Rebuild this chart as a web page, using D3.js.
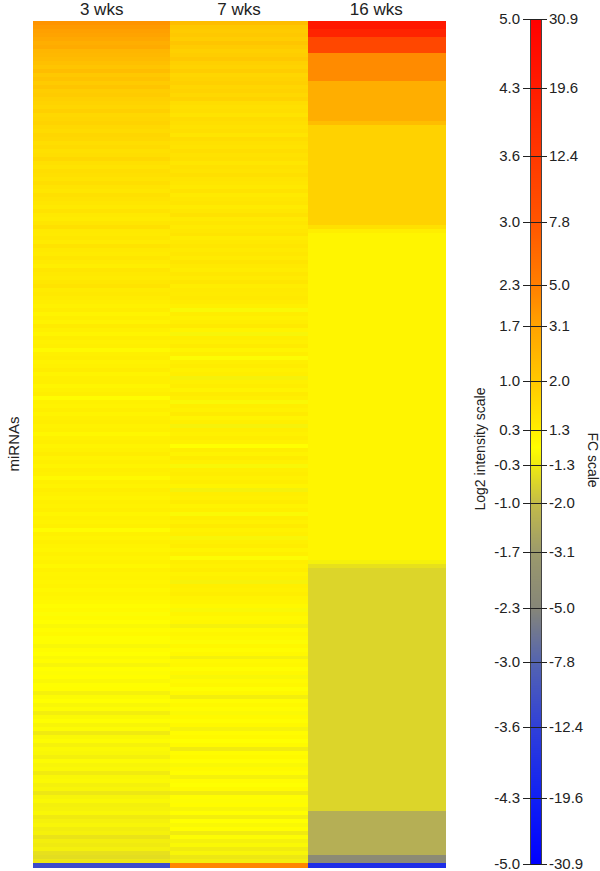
<!DOCTYPE html>
<html>
<head>
<meta charset="utf-8">
<script src="https://cdn.jsdelivr.net/npm/d3@7"></script>
<style>
body { margin: 0; background: white; }
text { font-family: "Liberation Sans", Arial, sans-serif; fill: #222; }
</style>
</head>
<body>
<svg id="chart"></svg>
<script>
var width = 600;
var height = 871;

var columns = ["3 wks", "7 wks", "16 wks"];

// log2 values per miRNA row top to bottom
var wk3 = [
	1.95, 1.85, 1.75, 1.7, 1.6, 1.5, 1.55, 1.35, 1.3, 1.25,
	1.15, 1.05, 1.2, 1.0, 1.1, 0.95, 1.05, 0.9, 0.95, 0.85,
	0.8, 0.75, 0.85, 0.7, 0.75, 0.8, 0.7, 0.65, 0.75, 0.7,
	0.6, 0.65, 0.55, 0.6, 0.7, 0.55, 0.5, 0.6, 0.55, 0.5,
	0.6, 0.5, 0.45, 0.55, 0.5,
	0.45, 0.4, 0.5, 0.4, 0.35, 0.45, 0.55, 0.4, 0.38, 0.42,
	0.35, 0.5, 0.4, 0.36, 0.44, 0.38, 0.3, 0.45, 0.4, 0.35,
	0.42, 0.5, 0.36, 0.4, 0.33,
	0.3, 0.25, 0.32, 0.2, 0.28, 0.22, 0.35, 0.26, 0.18, 0.3,
	0.24, 0.28, 0.1, 0.27, 0.3, 0.22, 0.25, 0.32, 0.2, 0.26,
	0.28, 0.18, 0.24, 0.3, 0.05, 0.25, 0.22, 0.28, 0.2, 0.26,
	0.3, 0.23, 0.27, 0.15, 0.25, 0.29, 0.2, 0.24, 0.31, 0.22,
	0.26, 0.19, 0.28, 0.24, 0.1, 0.27, 0.22, 0.3, 0.25, 0.2,
	0.26, 0.23, 0.28, 0.18, 0.25, 0.21, 0.27, 0.05, 0.24, 0.2,
	0.26, 0.22, 0.18, 0.25, 0.2, 0.23, 0.15, 0.24, 0.19, 0.22,
	0.17, 0.21, 0.14, 0.2, 0.16,
	0.12, 0.05, 0.1, -0.05, 0.08, 0.02, -0.1, 0.06, 0.1, -0.02,
	0.04, -0.12, 0.05, 0.0, -0.08, 0.06, -0.15, 0.02, -0.05, 0.04,
	-0.1, -0.02, 0.03, -0.2, -0.06, 0.0, -0.12, -0.04, -0.25, -0.08,
	-0.02, -0.14, -0.06, -0.3, -0.1, -0.04, -0.18, -0.08, -0.12, -0.22,
	-0.06, -0.15, -0.1, -0.28, -0.12, -0.08, -0.2, -0.14, -0.35, -0.16,
	-0.1, -0.22, -0.18, -0.12, -0.3, -0.2, -0.15, -0.26, -0.2, -0.4,
	-0.24, -0.3, -0.22, -0.45, -0.5, -0.35,
	-3.4
];

var wk7 = [
	1.2, 1.0,
	0.95, 1.0, 0.9, 1.05, 0.95, 0.85, 0.9, 1.0,
	0.85, 0.8, 0.9, 0.75, 0.8, 0.85, 0.75, 0.8, 0.7, 0.8,
	0.62, 0.55, 0.6, 0.5, 0.64, 0.57, 0.52, 0.58, 0.47, 0.62,
	0.54, 0.5, 0.6, 0.52, 0.56, 0.44, 0.54, 0.5, 0.58, 0.48,
	0.45, 0.4, 0.5, 0.38, 0.42, 0.47, 0.35, 0.42, 0.52, 0.38,
	0.44, 0.37, 0.42, 0.48, 0.33, 0.4, 0.45, 0.37, 0.42, 0.35,
	0.47, 0.39, 0.33, 0.42, 0.36, 0.44, 0.31, 0.38, 0.35, 0.4,
	0.35, 0.28, -0.1, 0.32, 0.25, 0.3, 0.4, 0.22, -0.15, 0.3,
	0.27, 0.35, 0.2, 0.3, -0.05, 0.28, 0.33, 0.24, 0.3, -0.2,
	0.26, 0.32, 0.22, 0.35, 0.28, -0.1, 0.3, 0.25, 0.36, 0.2,
	0.28, -0.18, 0.3, 0.24, 0.32, 0.26, 0.0, 0.3, 0.22, 0.34,
	0.27, -0.12, 0.28, 0.32, 0.24, 0.3, 0.2, -0.2, 0.3, 0.26,
	0.33, 0.22, 0.28, -0.08, 0.3, 0.25, 0.35, 0.23, 0.29, -0.15,
	0.27, 0.31, 0.2, 0.28, -0.05, 0.3, 0.24, 0.32, 0.22, 0.27,
	-0.18, 0.28, 0.25, 0.3, 0.21,
	0.2, 0.12, -0.1, 0.18, 0.1, 0.15, -0.2, 0.08, 0.16, 0.1,
	-0.05, 0.14, 0.06, 0.12, -0.22, 0.1, 0.15, 0.04, 0.12, -0.12,
	0.08, 0.14, 0.02, 0.1, -0.25, 0.06, 0.12, 0.05, -0.08, 0.1,
	0.04, 0.12, -0.18, 0.06, 0.1, 0.0, 0.08, -0.28, 0.05, 0.1,
	0.02, -0.1, 0.08, 0.04, -0.2, 0.06, 0.0, 0.08, -0.3, 0.04,
	-0.05, 0.06, -0.15, 0.02, -0.25, 0.0, -0.1, 0.04, -0.3, -0.05,
	-0.2, -0.1, -0.28, -0.15, -0.35, -0.25,
	2.2
];

// 16 wks column comes in runs of equal values (rows are sorted on it)
var wk16Levels = [4.4, 4.1, 3.3, 2.1, 1.5, 1.2, 0.82, 0.55, 0.3, 0.18, -0.2, -0.45, -0.62, -1.26, -2.14, -4.0];
var wk16Counts = [2,   2,   4,   7,   10,  1,   25,   1,    1,   82,   1,    1,     61,    11,    2,     1];

// colour bar ticks
var log2Ticks  = [5.0, 4.3, 3.6, 3.0, 2.3, 1.7, 1.0, 0.3, -0.3, -1.0, -1.7, -2.3, -3.0, -3.6, -4.3, -5.0];
var log2Labels = ["5.0", "4.3", "3.6", "3.0", "2.3", "1.7", "1.0", "0.3", "-0.3", "-1.0", "-1.7", "-2.3", "-3.0", "-3.6", "-4.3", "-5.0"];
var fcLabels   = ["30.9", "19.6", "12.4", "7.8", "5.0", "3.1", "2.0", "1.3", "-1.3", "-2.0", "-3.1", "-5.0", "-7.8", "-12.4", "-19.6", "-30.9"];
var tickPos    = [19, 88, 156, 222, 285, 326, 381, 430, 465, 503, 552, 608, 662, 727, 798, 864];

var colorStops = [5.0, 4.3, 3.6, 3.0, 2.3, 1.7, 1.0, 0.3, 0.0, -0.3, -1.0, -1.7, -2.3, -3.0, -3.6, -4.3, -5.0];
var colorRange = ["#ff0000", "#ff1c00", "#ff3800", "#ff5500", "#ff7f00", "#ffa300", "#ffc800", "#ffee00", "#ffff00",
                  "#f0ea10", "#c4bc48", "#9c9a6c", "#868678", "#5464b0", "#3040d8", "#1020f4", "#0000ff"];

var wk16 = [];
wk16Levels.forEach(function(v, i){
	for (var k = 0; k < wk16Counts[i]; k++) wk16.push(v);
});

var series = [wk3, wk7, wk16];
var nRows = wk16.length;

var color = d3.scaleLinear().domain(colorStops).range(colorRange).clamp(true);

var svg = d3.select("#chart").attr("width", width).attr("height", height);
svg.append("rect").attr("width", width).attr("height", height).attr("fill", "white");

var x = d3.scaleBand().domain(columns).range([33, 445]);
var y = d3.scaleBand().domain(d3.range(nRows)).range([21, 867]);

var cells = [];
series.forEach(function(s, c){
	s.forEach(function(v, r){
		cells.push({col: columns[c], row: r, value: v});
	});
});

svg.append("g").attr("shape-rendering", "crispEdges")
	.selectAll("rect").data(cells).enter().append("rect")
	.attr("x", function(d){ return x(d.col); })
	.attr("y", function(d){ return y(d.row); })
	.attr("width", x.bandwidth() + 0.5)
	.attr("height", y.bandwidth() + 0.5)
	.attr("fill", function(d){ return color(d.value); });

svg.selectAll(".colhead").data(columns).enter().append("text")
	.attr("class", "colhead")
	.attr("x", function(d){ return x(d) + x.bandwidth()/2; })
	.attr("y", 15)
	.attr("text-anchor", "middle")
	.style("font-size", "17px")
	.text(function(d){ return d; });

svg.append("text")
	.attr("transform", "translate(13,444) rotate(-90)")
	.attr("text-anchor", "middle")
	.attr("dominant-baseline", "central")
	.style("font-size", "15px")
	.text("miRNAs");

// colour bar
var cbX = 530, cbW = 11;
var cbY = d3.scaleLinear().domain(log2Ticks).range(tickPos);

var cb = svg.append("g").attr("shape-rendering", "crispEdges");
cb.selectAll("rect").data(d3.range(tickPos[0], tickPos[tickPos.length - 1])).enter().append("rect")
	.attr("x", cbX)
	.attr("y", function(d){ return d; })
	.attr("width", cbW)
	.attr("height", 1)
	.attr("fill", function(d){ return color(cbY.invert(d + 0.5)); });
cb.append("rect")
	.attr("x", cbX).attr("y", tickPos[0])
	.attr("width", cbW).attr("height", tickPos[tickPos.length - 1] - tickPos[0])
	.attr("fill", "none").attr("stroke", "#444").attr("stroke-width", 1);

var leftAxis = d3.axisLeft(cbY).tickValues(log2Ticks).tickSize(24).tickPadding(3)
	.tickFormat(function(d, i){ return log2Labels[i]; });
var gl = svg.append("g").attr("transform", "translate(547,0)").call(leftAxis);
gl.select(".domain").remove();
gl.selectAll("line").attr("stroke", "#222");
gl.selectAll("text").style("font-size", "15px").style("font-family", "Liberation Sans, Arial, sans-serif").attr("fill", "#222");

var rightAxis = d3.axisRight(cbY).tickValues(log2Ticks).tickSize(0).tickPadding(2)
	.tickFormat(function(d, i){ return fcLabels[i]; });
var gr = svg.append("g").attr("transform", "translate(547,0)").call(rightAxis);
gr.select(".domain").remove();
gr.selectAll("text").style("font-size", "15px").style("font-family", "Liberation Sans, Arial, sans-serif").attr("fill", "#222");

svg.append("text")
	.attr("transform", "translate(480,449) rotate(-90)")
	.attr("text-anchor", "middle")
	.attr("dominant-baseline", "central")
	.style("font-size", "14px")
	.text("Log2 intensity scale");

svg.append("text")
	.attr("transform", "translate(593,460) rotate(90)")
	.attr("text-anchor", "middle")
	.attr("dominant-baseline", "central")
	.style("font-size", "14px")
	.text("FC scale");
</script>
</body>
</html>
